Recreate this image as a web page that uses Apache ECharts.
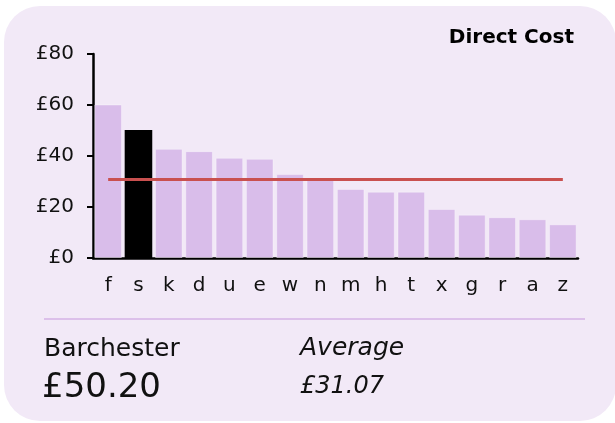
<!DOCTYPE html>
<html>
<head>
<meta charset="utf-8">
<script src="https://cdn.jsdelivr.net/npm/echarts@6/dist/echarts.min.js"></script>
<style>
	html, body { margin: 0; padding: 0; background: #fff; }
	#chart { width: 615px; height: 423px; }
</style>
</head>
<body>
<div id="chart"></div>
<script>
// data
const categories = ['f', 's', 'k', 'd', 'u', 'e', 'w', 'n', 'm', 'h', 't', 'x', 'g', 'r', 'a', 'z']
const costs = [60.2, 50.2, 42.8, 41.9, 39.3, 38.9, 32.9, 30.8, 27.1, 26.0, 26.0, 19.2, 17.0, 16.0, 15.2, 13.2]
const highlighted = 's'
const average = 31.07
const yTicks = [0, 20, 40, 60, 80]
const placeName = 'Barchester'
const placeValue = '£50.20'
const averageText = '£31.07'

const font = '"DejaVu Sans", Verdana, sans-serif'
const barColor = '#d9bdea'

const chart = echarts.init(document.getElementById('chart'))

const option = {
	animation: false,
	backgroundColor: '#fff',
	textStyle: { fontFamily: font },
	grid: {
		left: 93,
		right: 37,
		top: 54,
		bottom: 165
	},
	xAxis: {
		type: 'category',
		data: categories,
		axisLine: { lineStyle: { color: '#000', width: 2.5 } },
		axisTick: { show: false },
		axisLabel: { color: '#111', fontSize: 20, margin: 18, fontFamily: font }
	},
	yAxis: {
		type: 'value',
		min: yTicks[0],
		max: yTicks[yTicks.length - 1],
		interval: 20,
		splitLine: { show: false },
		axisLine: { show: true, lineStyle: { color: '#000', width: 2.5 } },
		axisTick: { show: true, length: 6, lineStyle: { color: '#000', width: 2 } },
		axisLabel: {
			color: '#111',
			fontSize: 20,
			margin: 19,
			fontFamily: font,
			formatter: v => '£' + v
		}
	},
	graphic: [
		{
			type: 'rect',
			z: -10,
			silent: true,
			shape: { x: 4, y: 6, width: 612, height: 415, r: 36 },
			style: { fill: '#f2e9f7' }
		},
		{
			type: 'line',
			silent: true,
			shape: { x1: 44, y1: 319, x2: 585, y2: 319 },
			style: { stroke: '#dcc0ea', lineWidth: 2 }
		},
		{
			type: 'text',
			x: 574,
			y: 37.5,
			style: {
				text: 'Direct Cost',
				fill: '#000',
				font: 'bold 20px ' + font,
				align: 'right',
				verticalAlign: 'middle'
			}
		},
		{
			type: 'text',
			x: 44,
			y: 349.5,
			style: { text: placeName, fill: '#111', font: '25px ' + font, verticalAlign: 'middle' }
		},
		{
			type: 'text',
			x: 42,
			y: 388,
			style: { text: placeValue, fill: '#111', font: '34px ' + font, verticalAlign: 'middle' }
		},
		{
			type: 'text',
			x: 300,
			y: 348.5,
			style: { text: 'Average', fill: '#111', font: 'italic 25px ' + font, verticalAlign: 'middle' }
		},
		{
			type: 'text',
			x: 300,
			y: 387,
			style: { text: averageText, fill: '#111', font: 'italic 24px ' + font, verticalAlign: 'middle' }
		}
	],
	series: [
		{
			type: 'bar',
			barCategoryGap: '9%',
			data: costs.map((v, i) => ({
				value: v,
				itemStyle: categories[i] === highlighted
					? { color: '#000', borderWidth: 0 }
					: { color: barColor, borderColor: 'rgba(255,255,255,0.35)', borderWidth: 1 }
			})),
			markLine: {
				silent: true,
				symbol: 'none',
				label: { show: false },
				lineStyle: { color: '#c9504f', width: 3, type: 'solid' },
				data: [[
					{ coord: [categories[0], average] },
					{ coord: [categories[categories.length - 1], average] }
				]]
			}
		}
	]
}

chart.setOption(option)
</script>
</body>
</html>
